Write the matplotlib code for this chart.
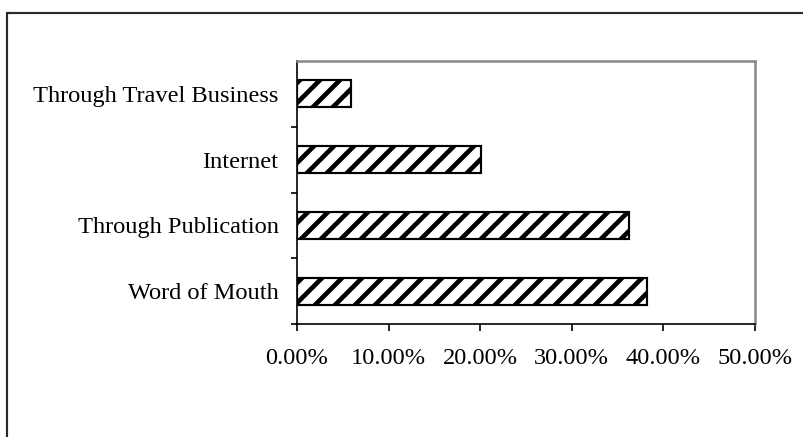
import numpy as np
import matplotlib
matplotlib.use("Agg")
import matplotlib.pyplot as plt
import matplotlib.patches as patches
from matplotlib.ticker import FixedLocator, FuncFormatter

# survey answers, bottom to top
channels = ["Word of Mouth", "Through Publication", "Internet", "Through Travel Business"]
shares = [38.2, 36.2, 20.1, 5.9]
xticks = [0, 10, 20, 30, 40, 50]

plt.rcParams["font.family"] = ["Liberation Serif", "DejaVu Serif"]
plt.rcParams["hatch.linewidth"] = 2.8
plt.rcParams["hatch.color"] = "black"

DPI = 120
fig = plt.figure(figsize=(803 / DPI, 437 / DPI), dpi=DPI)
fig.patch.set_facecolor("white")

# chart area frame, runs off the right and bottom edge
frame = patches.Rectangle((7 / 803, -0.2), 1.2, 1.2 - 13 / 437, transform=fig.transFigure,
                          fill=False, edgecolor="#2a2a2a", linewidth=1.3, clip_on=False)
fig.patches.append(frame)

ax = fig.add_axes([297 / 803, 1 - 324 / 437, 458 / 803, 263 / 437])
y = np.arange(len(channels))
ax.barh(y, shares, height=0.41, color="white", edgecolor="black", linewidth=1.3, hatch="//")

ax.set_xlim(0, 50)
ax.set_ylim(-0.5, len(channels) - 0.5)
ax.set_xticks(xticks)
ax.xaxis.set_major_formatter(FuncFormatter(lambda v, p: "%.2f%%" % v))
ax.set_yticks(y)
ax.set_yticklabels(channels)
ax.yaxis.set_minor_locator(FixedLocator(np.arange(-0.5, len(channels) - 0.5, 1.0)))

ax.tick_params(axis="y", which="major", length=0, pad=11, labelsize=14.6)
ax.tick_params(axis="y", which="minor", length=3.5, width=1.0, direction="out")
ax.tick_params(axis="x", length=4, width=1.0, direction="out", pad=10.5, labelsize=14.6)

for side in ["left", "bottom"]:
    ax.spines[side].set_color("black")
    ax.spines[side].set_linewidth(1.0)
for side in ["top", "right"]:
    ax.spines[side].set_color("#888888")
    ax.spines[side].set_linewidth(1.5)

fig.savefig("out.png", dpi=DPI, facecolor="white")
